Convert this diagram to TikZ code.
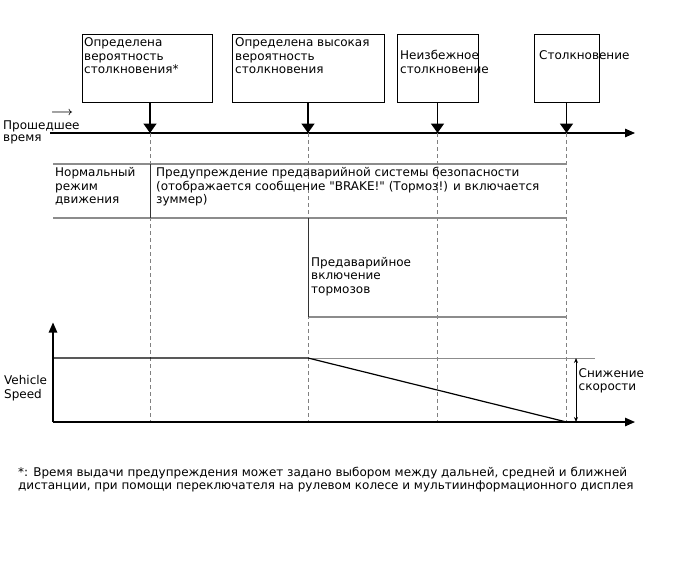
\documentclass[tikz,border=0pt]{standalone}
\usepackage{fontspec}
\setmainfont{DejaVu Sans}
\usetikzlibrary{arrows.meta}

\tikzset{
  evbox/.style={draw, line width=0.9pt, inner sep=0pt, minimum height=68pt},
  txt/.style={anchor=north west, inner sep=0pt, align=left, font=\fontsize{12}{13.5}\selectfont},
  evarrow/.style={line width=1.8pt, -{Triangle[length=9.5pt, width=13pt]}},
  axis/.style={line width=1.2pt, -{Triangle[length=10pt, width=8.5pt]}},
  guide/.style={gray, line width=0.6pt, dash pattern=on 4pt off 3pt},
  rowline/.style={line width=1.4pt, gray!90},
  sep/.style={line width=1pt, black!80},
}

\begin{document}
\begin{tikzpicture}[x=1pt, y=-1pt]
  \useasboundingbox (0,0) rectangle (688,560);

  % event boxes
  \node[evbox, minimum width=130pt] (b1) at (147,68) {};
  \node[evbox, minimum width=152pt] (b2) at (308,68) {};
  \node[evbox, minimum width=81pt] (b3) at (437.5,68) {};
  \node[evbox, minimum width=65pt] (b4) at (566.5,68) {};
  \node[txt] (l1) at (84,37.8) {Определена\\вероятность\\столкновения*};
  \node[txt] (l2) at (235,37.8) {Определена высокая\\вероятность\\столкновения};
  \node[txt] (l3) at (400,50) {Неизбежное\\столкновение};
  \node[txt] (l4) at (539,50.2) {Столкновение};

  % time axis
  \coordinate (t0) at (50,133);
  \coordinate (t1) at (635,133);
  \draw[axis] (t0) -- (t1);
  \node[txt, font=\fontsize{12}{12.5}\selectfont] (tlab) at (3,120.5) {Прошедшее\\время};
  \node[inner sep=0pt, font=\fontsize{12}{12}\selectfont\boldmath] (tarr) at (62,113.5) {$\longrightarrow$};

  \coordinate (e1) at (150,133);
  \coordinate (e2) at (308,133);
  \coordinate (e3) at (437.5,133);
  \coordinate (e4) at (566.5,133);
  \coordinate (o) at (53,422);
  \foreach \i in {1,...,4} {
    \draw[evarrow] (e\i |- b\i.south) -- (e\i);
    \draw[guide] (e\i) -- (e\i |- o);
  }

  % warning rows
  \coordinate (r1) at (53,164);
  \coordinate (r2) at (53,218);
  \coordinate (r3) at (308,317);
  \draw[rowline] (r1) -- (r1 -| e4);
  \draw[rowline] (r2) -- (r2 -| e4);
  \draw[rowline] (r3) -- (r3 -| e4);
  \draw[sep] (r1 -| e1) -- (r2 -| e1);
  \draw[sep] (r2 -| e2) -- (r3);
  \node[txt] (n1) at (55,167.5) {Нормальный\\режим\\движения};
  \node[txt] (n2) at (156,167.3) {Предупреждение предаварийной системы безопасности\\(отображается сообщение \textquotedbl BRAKE!\textquotedbl{} (Тормоз!) и включается\\зуммер)};
  \node[txt] (n3) at (311,257) {Предаварийное\\включение\\тормозов};

  % speed
  \coordinate (ytop) at (53,322.5);
  \coordinate (v0) at (53,358);
  \coordinate (v1) at (595,358);
  \draw[axis] (o) -- (ytop);
  \draw[axis] (o) -- (o -| t1);
  \draw[rowline, line width=1pt] (v0 -| e2) -- (v1);
  \draw[line width=1.2pt] (v0) -- (v0 -| e2) -- (o -| e4);
  \draw[line width=0.9pt, {Stealth[length=5pt, width=4pt]}-{Stealth[length=5pt, width=4pt]}] (576,358) -- (576,422);
  \node[txt] (dv) at (578.5,368) {Снижение\\скорости};
  \node[txt] (vs) at (4,375.5) {Vehicle\\Speed};

  \node[txt, font=\fontsize{12}{13}\selectfont] (note) at (18,466.5) {*: Время выдачи предупреждения может задано выбором между дальней, средней и ближней\\дистанции, при помощи переключателя на рулевом колесе и мультиинформационного дисплея};
\end{tikzpicture}
\end{document}
